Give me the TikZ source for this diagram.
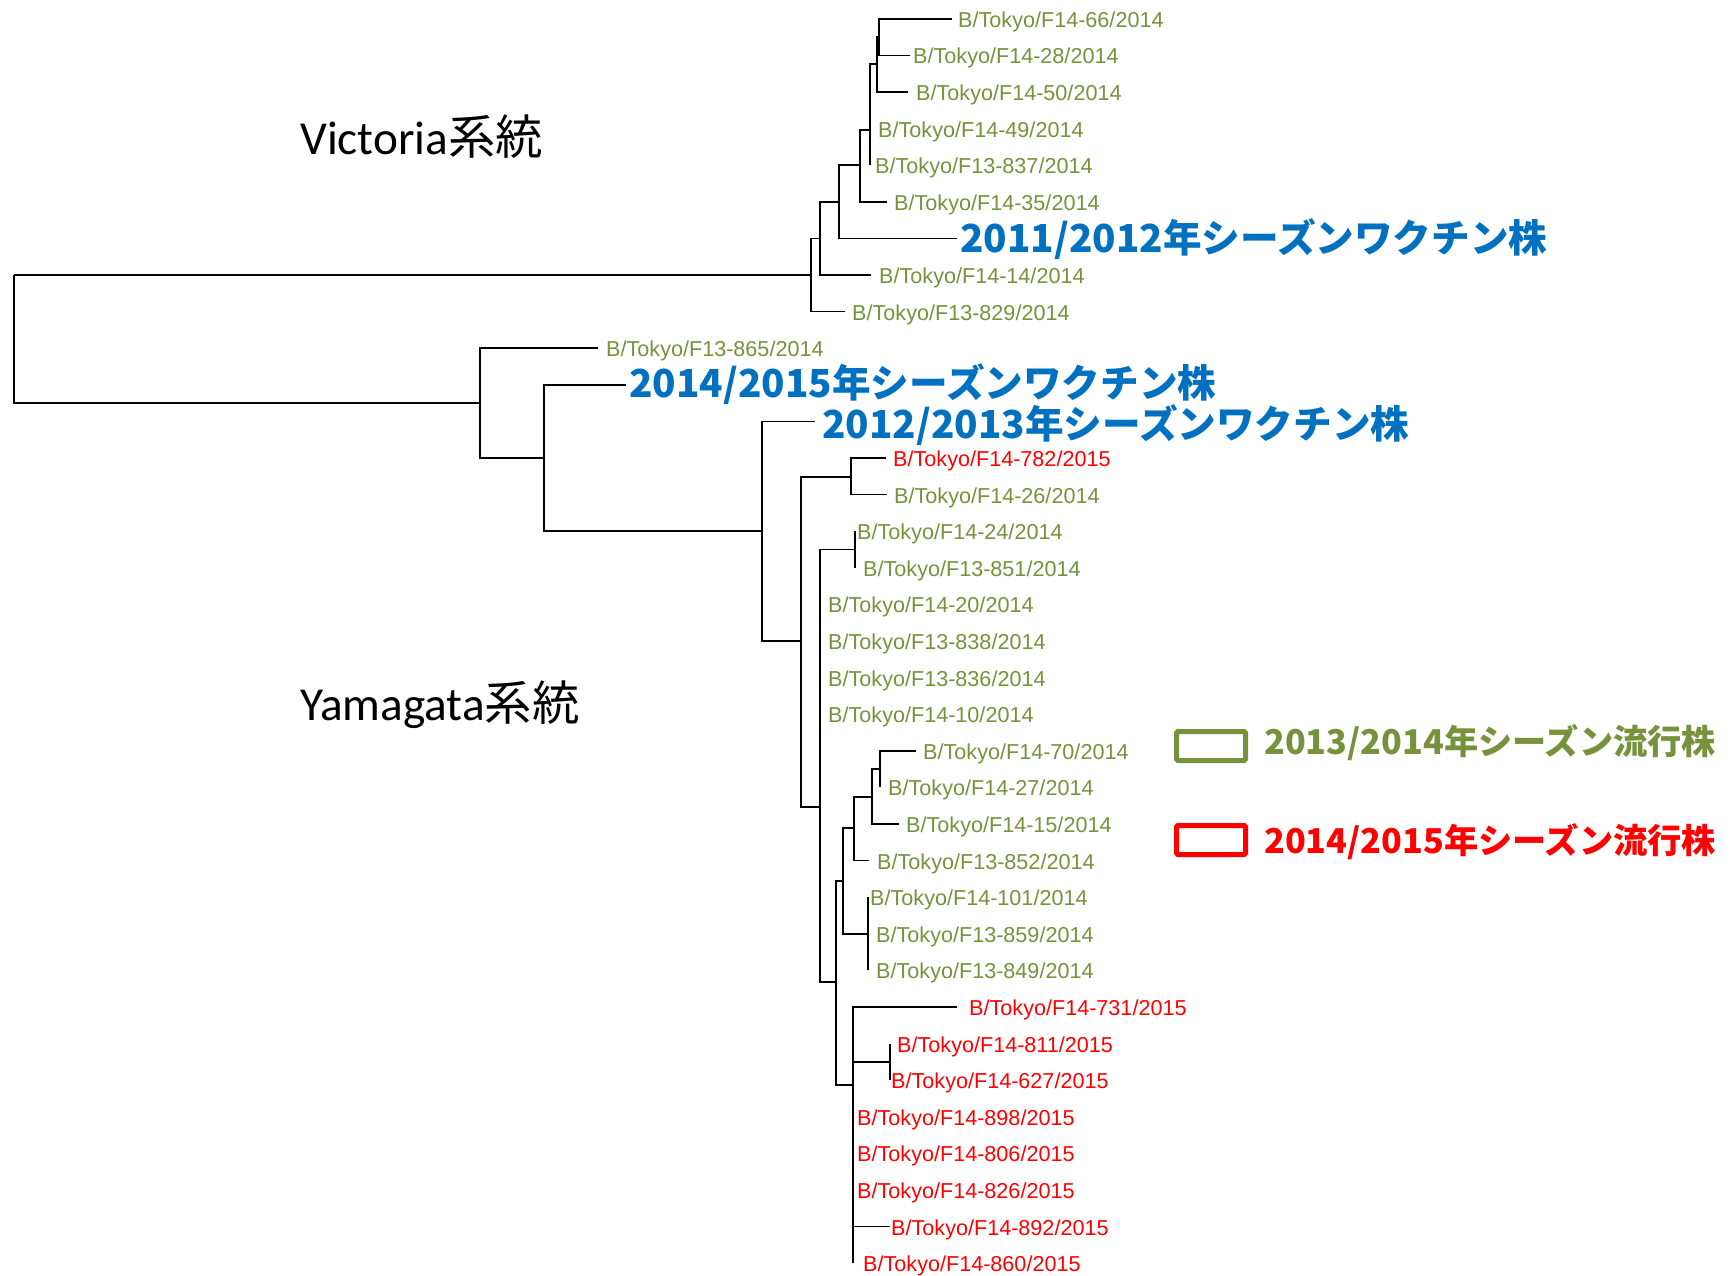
\documentclass[tikz,border=0pt]{standalone}
\usepackage{fontspec}
\setmainfont{Liberation Sans}
\newfontfamily\jpfnt{Noto Sans CJK JP}
\newfontfamily\carlfnt{Carlito}
\definecolor{lgreen}{RGB}{118,146,60}
\definecolor{vblue}{RGB}{0,112,192}
\definecolor{lred}{RGB}{255,0,0}
\begin{document}
\begin{tikzpicture}[x=1pt,y=-1pt,
  br/.style={line width=1.5pt,black},
  brz/.style={line width=2.6pt,black},
  lab/.style={anchor=base west,inner sep=0pt,font=\fontsize{21.6}{24}\selectfont},
  gl/.style={lab,text=lgreen},
  rl/.style={lab,text=lred},
  vac/.style={anchor=base west,inner sep=0pt,text=vblue,font=\jpfnt\bfseries\fontsize{38.6}{42}\selectfont},
  grp/.style={anchor=base west,inner sep=0pt,font=\fontsize{47.3}{50}\selectfont},
  leg/.style={anchor=base west,inner sep=0pt,font=\jpfnt\bfseries\fontsize{34.2}{37}\selectfont},
  legbox/.style={line width=5pt,rounded corners=1.5pt}]
\useasboundingbox (0,0) rectangle (1735,1276);
% ---------- internal nodes ----------
\coordinate (R0) at (14,275);
\coordinate (G) at (811,275);
\coordinate (F) at (820,238.4);
\coordinate (E) at (839,201.8);
\coordinate (D) at (860,165.2);
\coordinate (C) at (870,130);
\coordinate (B) at (877,64);
\coordinate (A) at (879,37);
\coordinate (H) at (480,403);
\coordinate (I) at (544,458);
\coordinate (J) at (762,531);
\coordinate (K) at (801,641);
\coordinate (L) at (851,477);
\coordinate (M) at (820,807);
\coordinate (N) at (855,549.5);
\coordinate (P) at (836,982);
\coordinate (O) at (843,881);
\coordinate (O1) at (854,828);
\coordinate (O2) at (868,933.8);
\coordinate (O3) at (872,797);
\coordinate (O4) at (880,769);
\coordinate (Q) at (853,1085);
\coordinate (Rn) at (890,1061.9);
% ---------- leaf tips ----------
\coordinate (t66) at (952,18.8);
\coordinate (t28) at (910,55.4);
\coordinate (t50) at (908,92);
\coordinate (t49) at (870,128.6);
\coordinate (t837) at (870,165.2);
\coordinate (t35) at (887,201.8);
\coordinate (tv11) at (957,238.4);
\coordinate (t14) at (871,275);
\coordinate (t829) at (845,311.6);
\coordinate (t865) at (598,348.2);
\coordinate (tv15) at (626,384.8);
\coordinate (tv13) at (815,421.4);
\coordinate (t782) at (886,458);
\coordinate (t26) at (887,494.6);
\coordinate (t24) at (855,531.2);
\coordinate (t851) at (855,567.8);
\coordinate (t20) at (820,604.4);
\coordinate (t838) at (820,641);
\coordinate (t836) at (820,677.6);
\coordinate (t10) at (820,714.2);
\coordinate (t70) at (916,750.8);
\coordinate (t27) at (880,787.4);
\coordinate (t15) at (899,824);
\coordinate (t852) at (869,860.6);
\coordinate (t101) at (868,897.2);
\coordinate (t859) at (868,933.8);
\coordinate (t849) at (868,970.4);
\coordinate (t731) at (957,1007);
\coordinate (t811) at (890,1043.6);
\coordinate (t627) at (890,1080.2);
\coordinate (t898) at (853,1116.8);
\coordinate (t806) at (853,1153.4);
\coordinate (t826) at (853,1190);
\coordinate (t892) at (890,1226.6);
\coordinate (t860) at (853,1263.2);
% ---------- branches ----------
\draw[br] (R0) |- (G); \draw[br] (R0) |- (H);
\draw[br] (G) |- (F); \draw[br] (G) |- (t829);
\draw[br] (F) |- (E); \draw[br] (F) |- (t14);
\draw[br] (E) |- (D); \draw[br] (E) |- (tv11);
\draw[br] (D) |- (C); \draw[br] (D) |- (t35);
\draw[br] (C) |- (B); \draw[brz] (C) |- (t49); \draw[brz] (C) |- (t837);
\draw[br] (B) |- (A); \draw[br] (B) |- (t50);
\draw[br] (A) |- (t66); \draw[br] (A) |- (t28);
\draw[br] (H) |- (t865); \draw[br] (H) |- (I);
\draw[br] (I) |- (tv15); \draw[br] (I) |- (J);
\draw[br] (J) |- (tv13); \draw[br] (J) |- (K);
\draw[br] (K) |- (L); \draw[br] (K) |- (M);
\draw[br] (L) |- (t782); \draw[br] (L) |- (t26);
\draw[br] (M) |- (N); \draw[br] (M) |- (P);
\draw[br] (M) |- (t20); \draw[brz] (M) |- (t838); \draw[brz] (M) |- (t836); \draw[brz] (M) |- (t10);
\draw[brz] (N) |- (t24); \draw[brz] (N) |- (t851);
\draw[br] (P) |- (O); \draw[br] (P) |- (Q);
\draw[br] (O) |- (O1); \draw[br] (O) |- (O2);
\draw[br] (O1) |- (O3); \draw[br] (O1) |- (t852);
\draw[br] (O3) |- (O4); \draw[br] (O3) |- (t15);
\draw[br] (O4) |- (t70); \draw[brz] (O4) |- (t27);
\draw[brz] (O2) |- (t101); \draw[brz] (O2) |- (t859); \draw[brz] (O2) |- (t849);
\draw[br] (Q) |- (t731); \draw[br] (Q) |- (Rn);
\draw[brz] (Q) |- (t898); \draw[brz] (Q) |- (t806); \draw[br] (Q) |- (t826);
\draw[br] (Q) |- (t892); \draw[br] (Q) |- (t860);
\draw[brz] (Rn) |- (t811); \draw[brz] (Rn) |- (t627);
% ---------- leaf labels ----------
\node[gl] (l66) at (958,27.3) {B/Tokyo/F14-66/2014};
\node[gl] (l28) at (913,63.9) {B/Tokyo/F14-28/2014};
\node[gl] (l50) at (916,100.5) {B/Tokyo/F14-50/2014};
\node[gl] (l49) at (878,137.1) {B/Tokyo/F14-49/2014};
\node[gl] (l837) at (875,173.7) {B/Tokyo/F13-837/2014};
\node[gl] (l35) at (894,210.3) {B/Tokyo/F14-35/2014};
\node[gl] (l14) at (879,283.5) {B/Tokyo/F14-14/2014};
\node[gl] (l829) at (852,320.1) {B/Tokyo/F13-829/2014};
\node[gl] (l865) at (606,356.7) {B/Tokyo/F13-865/2014};
\node[rl] (l782) at (893,466.5) {B/Tokyo/F14-782/2015};
\node[gl] (l26) at (894,503.1) {B/Tokyo/F14-26/2014};
\node[gl] (l24) at (857,539.7) {B/Tokyo/F14-24/2014};
\node[gl] (l851) at (863,576.3) {B/Tokyo/F13-851/2014};
\node[gl] (l20) at (828,612.9) {B/Tokyo/F14-20/2014};
\node[gl] (l838) at (828,649.5) {B/Tokyo/F13-838/2014};
\node[gl] (l836) at (828,686.1) {B/Tokyo/F13-836/2014};
\node[gl] (l10) at (828,722.7) {B/Tokyo/F14-10/2014};
\node[gl] (l70) at (923,759.3) {B/Tokyo/F14-70/2014};
\node[gl] (l27) at (888,795.9) {B/Tokyo/F14-27/2014};
\node[gl] (l15) at (906,832.5) {B/Tokyo/F14-15/2014};
\node[gl] (l852) at (877,869.1) {B/Tokyo/F13-852/2014};
\node[gl] (l101) at (870,905.7) {B/Tokyo/F14-101/2014};
\node[gl] (l859) at (876,942.3) {B/Tokyo/F13-859/2014};
\node[gl] (l849) at (876,978.9) {B/Tokyo/F13-849/2014};
\node[rl] (l731) at (969,1015.5) {B/Tokyo/F14-731/2015};
\node[rl] (l811) at (897,1052.1) {B/Tokyo/F14-811/2015};
\node[rl] (l627) at (891,1088.7) {B/Tokyo/F14-627/2015};
\node[rl] (l898) at (857,1125.3) {B/Tokyo/F14-898/2015};
\node[rl] (l806) at (857,1161.9) {B/Tokyo/F14-806/2015};
\node[rl] (l826) at (857,1198.5) {B/Tokyo/F14-826/2015};
\node[rl] (l892) at (891,1235.1) {B/Tokyo/F14-892/2015};
\node[rl] (l860) at (863,1271.7) {B/Tokyo/F14-860/2015};
% ---------- vaccine labels ----------
\node[vac] (v11) at (960,253) {2011/2012年シーズンワクチン株};
\node[vac] (v15) at (629,397) {2014/2015年シーズンワクチン株};
\node[vac] (v13) at (822,438) {2012/2013年シーズンワクチン株};
% ---------- lineage labels ----------
\node[grp] (vic) at (300,155) {\carlfnt Victoria\jpfnt 系統};
\node[grp] (yam) at (300,720) {\carlfnt Yamagata\jpfnt 系統};
% ---------- legend ----------
\draw[legbox,draw=lgreen] (1176.5,731.5) rectangle (1245.5,760.5);
\node[leg,text=lgreen] (leg1) at (1264,754) {2013/2014年シーズン流行株};
\draw[legbox,draw=lred] (1176.5,825.5) rectangle (1245.5,854.5);
\node[leg,text=lred] (leg2) at (1264,853) {2014/2015年シーズン流行株};
\end{tikzpicture}
\end{document}
